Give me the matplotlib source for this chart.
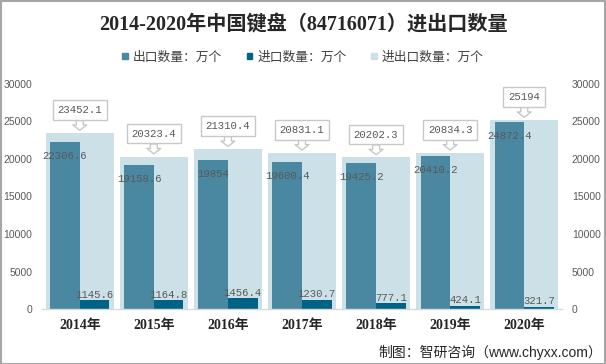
import matplotlib
matplotlib.use("Agg")
import matplotlib.pyplot as plt
from matplotlib.patches import Rectangle
import numpy as np

plt.rcParams['font.family'] = ['Noto Sans CJK SC', 'DejaVu Sans']

categories = ['2014年', '2015年', '2016年', '2017年', '2018年', '2019年', '2020年']
exports = [22306.6, 19158.6, 19854, 19600.4, 19425.2, 20410.2, 24872.4]
imports = [1145.6, 1164.8, 1456.4, 1230.7, 777.1, 424.1, 321.7]
totals = [23452.1, 20323.4, 21310.4, 20831.1, 20202.3, 20834.3, 25194]
series_names = ['出口数量：万个', '进口数量：万个', '进出口数量：万个']
yticks = [0, 5000, 10000, 15000, 20000, 25000, 30000]

c_exp = '#4a87a1'
c_imp = '#006386'
c_tot = '#cce0e7'
lab_col = '#595959'

W, H = 606, 364
fig = plt.figure(figsize=(W / 100, H / 100), dpi=100)
ax = fig.add_axes([42 / W, (H - 309) / H, 520 / W, 225 / H])

x = np.arange(len(categories))
ax.bar(x, totals, width=0.92, color=c_tot, zorder=1)
ax.bar(x - 0.2, exports, width=0.4, color=c_exp, zorder=2)
ax.bar(x + 0.2, imports, width=0.4, color=c_imp, zorder=2)

ax.set_xlim(-0.51, len(categories) - 0.49)
ax.set_ylim(0, 30000)
ax.set_yticks(yticks)
ax.set_yticklabels([str(t) for t in yticks], fontsize=7.5, color=lab_col, family='Liberation Sans')
ax.tick_params(axis='y', length=0, pad=7)
ax.set_xticks(x)
ax.set_xticklabels(categories, fontsize=10, fontweight='bold', color='#262626',
                   family=['Liberation Serif', 'Noto Sans CJK SC'])
ax.tick_params(axis='x', length=0, pad=7)
for s in ['top', 'left', 'right']:
    ax.spines[s].set_visible(False)
ax.spines['bottom'].set_color('#d9d9d9')
ax.spines['bottom'].set_linewidth(1)

ax2 = ax.twinx()
ax2.set_ylim(0, 30000)
ax2.set_yticks(yticks)
ax2.set_yticklabels([str(t) for t in yticks], fontsize=7.5, color=lab_col, family='Liberation Sans')
ax2.tick_params(axis='y', length=0, pad=7)
for s in ['top', 'left', 'right', 'bottom']:
    ax2.spines[s].set_visible(False)

def fmt(v):
    return f"{v:g}"

lab_font = dict(fontsize=7.7, color=lab_col, family='Liberation Mono')

for i in range(len(categories)):
    ax.annotate(fmt(exports[i]), xy=(x[i] - 0.2, exports[i]), xytext=(0, -10),
                textcoords='offset points', ha='center', va='center', zorder=5, **lab_font)
    ax.annotate(fmt(imports[i]), xy=(x[i] + 0.2, imports[i]), xytext=(0, 4),
                textcoords='offset points', ha='center', va='center', zorder=5, **lab_font)
    ax.annotate(fmt(totals[i]), xy=(x[i], totals[i]), xytext=(0, 16.5),
                textcoords='offset points', ha='center', va='center', zorder=6,
                bbox=dict(boxstyle='square,pad=0.45', fc='white', ec='#c8c8c8', lw=1),
                arrowprops=dict(arrowstyle='simple,head_length=0.5,head_width=1.3,tail_width=0.65',
                                fc='white', ec='#c8c8c8', lw=1, shrinkA=0, shrinkB=2),
                **lab_font)

handles = [Rectangle((0, 0), 1, 1, color=c) for c in (c_exp, c_imp, c_tot)]
fig.legend(handles, series_names, loc='center', bbox_to_anchor=(303 / W, 1 - 57 / H),
           ncol=3, frameon=False, fontsize=9.2, handlelength=0.45, handleheight=0.45,
           handletextpad=0.4, columnspacing=1.9, labelcolor='#404040')

fig.text(0.5, 1 - 25 / H, '2014-2020年中国键盘（84716071）进出口数量', ha='center', va='center',
         fontsize=14.5, fontweight='bold', color='#262626',
         family=['Liberation Serif', 'Noto Sans CJK SC'])

fig.text(602 / W, 1 - 352 / H, '制图：智研咨询（www.chyxx.com）', ha='right', va='center',
         fontsize=10, color='#262626', family=['Liberation Sans', 'Noto Sans CJK SC'])

fig.patches.append(Rectangle((0.5 / W, 0.5 / H), 1 - 1.5 / W, 1 - 1.5 / H, transform=fig.transFigure,
                             fill=False, ec='#a6a6a6', lw=1.5))

fig.savefig('out.png', dpi=100)
